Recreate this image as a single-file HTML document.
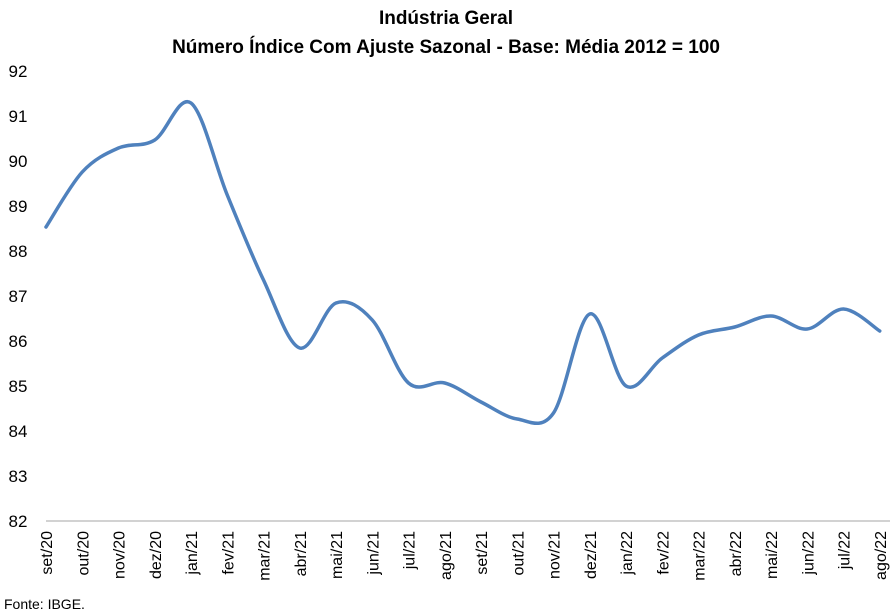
<!DOCTYPE html>
<html><head><meta charset="utf-8"><style>
body{margin:0;background:#fff;}
svg{display:block;font-family:"Liberation Sans",Calibri,sans-serif;}
</style></head><body>
<svg width="893" height="615" viewBox="0 0 893 615" xmlns="http://www.w3.org/2000/svg">
<text x="446" y="24" text-anchor="middle" font-size="19" font-weight="bold" fill="#000">Indústria Geral</text>
<text x="446" y="53" text-anchor="middle" font-size="19" font-weight="bold" fill="#000">Número Índice Com Ajuste Sazonal - Base: Média 2012 = 100</text>
<g font-size="17" fill="#000" text-anchor="middle">
<text x="18" y="77">92</text><text x="18" y="122">91</text><text x="18" y="167">90</text>
<text x="18" y="212">89</text><text x="18" y="257">88</text><text x="18" y="302">87</text>
<text x="18" y="347">86</text><text x="18" y="392">85</text><text x="18" y="437">84</text>
<text x="18" y="482">83</text><text x="18" y="527">82</text>
</g>
<line x1="46" y1="521" x2="890" y2="521" stroke="#a6a6a6" stroke-width="1"/>
<g id="xl" font-size="16" fill="#000" text-anchor="end"></g>
<path id="ln" fill="none" stroke="#4f81bd" stroke-width="3.5" stroke-linejoin="round" stroke-linecap="round"/>
<text x="4" y="609" font-size="14" fill="#000">Fonte: IBGE.</text>
</svg>
<script>
var ys=[227,172,148,140,103,195,280,348,303,320,383,383,402,419,413,314,386,358,335,327,316,329,309,331];
var labs=["set/20","out/20","nov/20","dez/20","jan/21","fev/21","mar/21","abr/21","mai/21","jun/21","jul/21","ago/21","set/21","out/21","nov/21","dez/21","jan/22","fev/22","mar/22","abr/22","mai/22","jun/22","jul/22","ago/22"];
var p=ys.map(function(y,i){return [46+i*36.25,y];});
var d="M"+p[0][0]+","+p[0][1];
for(var i=0;i<p.length-1;i++){
 var p0=p[i-1]||p[i],p1=p[i],p2=p[i+1],p3=p[i+2]||p2,t=6;
 d+=" C"+(p1[0]+(p2[0]-p0[0])/t)+","+(p1[1]+(p2[1]-p0[1])/t)+" "+(p2[0]-(p3[0]-p1[0])/t)+","+(p2[1]-(p3[1]-p1[1])/t)+" "+p2[0]+","+p2[1];
}
document.getElementById("ln").setAttribute("d",d);
var g=document.getElementById("xl"),s="";
p.forEach(function(q,i){s+='<text transform="translate('+(q[0]+6)+',531) rotate(-90)">'+labs[i]+'</text>';});
g.innerHTML=s;
</script>
</body></html>
